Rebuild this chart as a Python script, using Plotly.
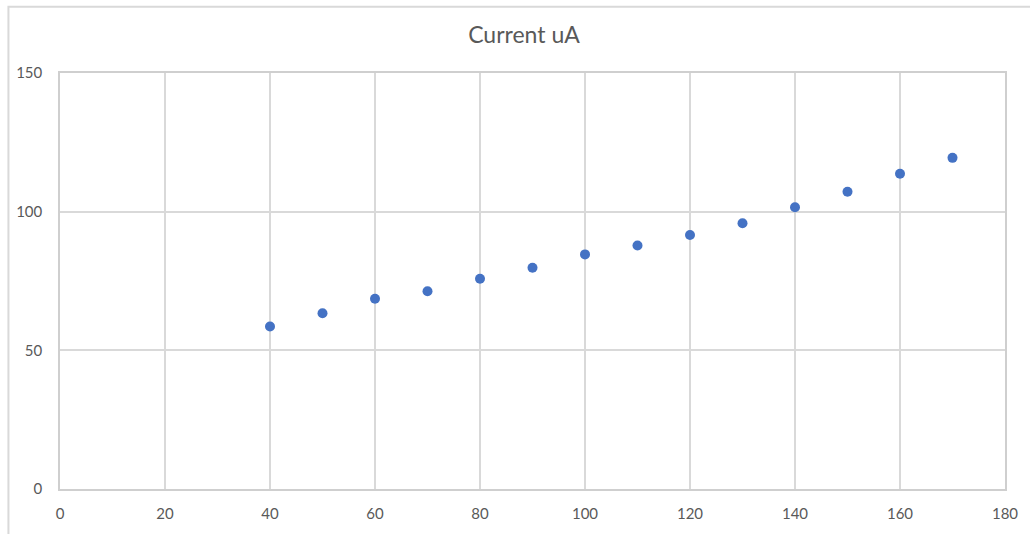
import plotly.graph_objects as go

# Measurement data
x_values = [40, 50, 60, 70, 80, 90, 100, 110, 120, 130, 140, 150, 160, 170]
current_ua = [58.6, 63.4, 68.6, 71.3, 75.8, 79.8, 84.6, 87.8, 91.6, 95.8, 101.6, 107.2, 113.7, 119.4]

W, H = 1030, 534
ML, MR, MT, MB = 60, 17, 73, 40
pw, ph = W - ML - MR, H - MT - MB

def px_x(p):
    return (p - ML) / pw

def px_y(p):
    return (H - MB - p) / ph

grid = "#d9d9d9"
text_col = "#595959"

fig = go.Figure()
fig.add_trace(go.Scatter(
    x=x_values, y=current_ua, mode="markers",
    marker=dict(color="#4472C4", size=10),
    name="Current uA", showlegend=False,
))

axis_common = dict(
    showgrid=True, gridcolor=grid, gridwidth=1.5,
    showline=True, linecolor="#cfcfcf", linewidth=1.5, mirror=True,
    zeroline=False, ticks="",
    tickfont=dict(size=15, color=text_col),
)

fig.update_layout(
    width=W, height=H,
    margin=dict(l=ML, r=MR, t=MT, b=MB),
    paper_bgcolor="white", plot_bgcolor="white",
    font=dict(family="Lato, 'Open Sans', sans-serif", color=text_col, size=15),
    title=dict(text="Current uA", x=524 / W, xanchor="center",
               y=1 - 35 / H, yanchor="middle",
               font=dict(size=23, color=text_col)),
    xaxis=dict(range=[0, 180], dtick=20, tick0=0, ticklabelstandoff=10, **axis_common),
    yaxis=dict(range=[0, 150], dtick=50, tick0=0, ticklabelstandoff=13, **axis_common),
    shapes=[
        # outer chart frame
        dict(type="rect", xref="paper", yref="paper",
             x0=px_x(8), x1=px_x(1045), y0=px_y(545), y1=px_y(6),
             line=dict(color="#d9d9d9", width=2), fillcolor="rgba(0,0,0,0)", layer="below"),
    ],
)

fig.write_html("out.html")
